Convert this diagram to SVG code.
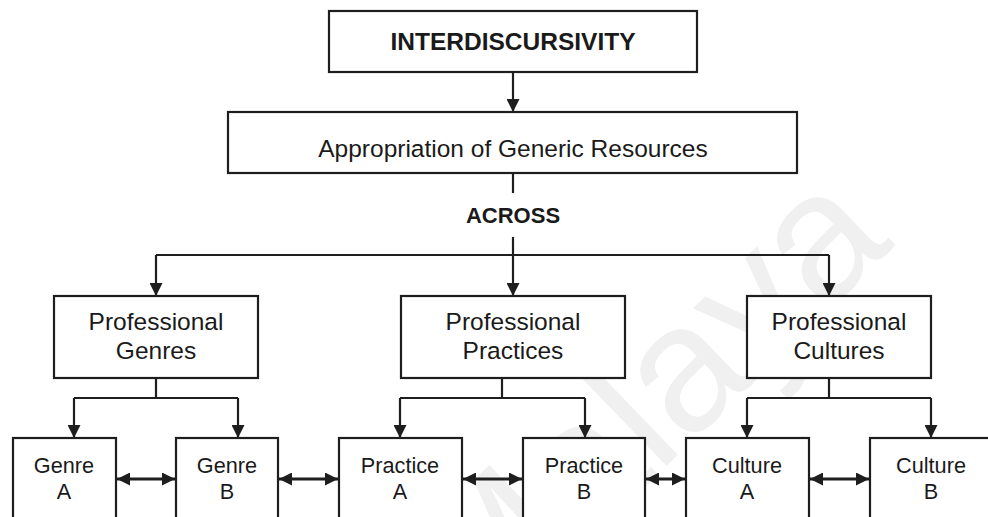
<svg xmlns="http://www.w3.org/2000/svg" width="988" height="517" viewBox="0 0 988 517">
<defs>
<marker id="ah" markerUnits="userSpaceOnUse" markerWidth="13" markerHeight="13" viewBox="0 0 13 13" refX="13" refY="6.5" orient="auto-start-reverse">
<path d="M0,0 L13,6.5 L0,13 z" fill="#1e1e1e"/>
</marker>
<style>
.box{fill:#fff;stroke:#1e1e1e;stroke-width:2.2}
.ln{fill:none;stroke:#1e1e1e;stroke-width:2.2}
.ar{fill:none;stroke:#1e1e1e;stroke-width:2.2;marker-end:url(#ah)}
.da{fill:none;stroke:#1e1e1e;stroke-width:3;marker-end:url(#ah);marker-start:url(#ah)}
.t{font-family:"Liberation Sans",Arial,sans-serif;fill:#1a1a1a;text-anchor:middle}
.l{font-size:24.5px}
.s{font-size:21.7px}
.b{font-weight:bold}
.wm{font-family:"Liberation Sans",Arial,sans-serif;font-size:180px;fill:#f0f0f0}
</style>
</defs>
<rect width="988" height="517" fill="#fff"/>
<text class="wm" transform="translate(478,648) rotate(-44)">Malaya</text>
<g id="connectors">
<path class="ar" d="M513,72 V112"/>
<path class="ln" d="M513,173 V193"/>
<path class="ar" d="M513,237 V296"/>
<path class="ln" d="M156,255 H829"/>
<path class="ar" d="M156,255 V296"/>
<path class="ar" d="M829,255 V296"/>
<path class="ln" d="M156,378 V398 M74,398 H238 M502,378 V398 M400,398 H585 M829,378 V398 M747,398 H931"/>
<path class="ar" d="M74,398 V438"/>
<path class="ar" d="M238,398 V438"/>
<path class="ar" d="M400,398 V438"/>
<path class="ar" d="M585,398 V438"/>
<path class="ar" d="M747,398 V438"/>
<path class="ar" d="M931,398 V438"/>
<path class="da" d="M117,479 H175"/>
<path class="da" d="M279,479 H338"/>
<path class="da" d="M463,479 H522"/>
<path class="da" d="M646,479 H685"/>
<path class="da" d="M810,479 H869"/>
<text class="t b" style="font-size:22px" x="513" y="223">ACROSS</text>
</g>
<g id="interdiscursivity">
<rect class="box" x="329" y="11" width="368" height="61"/>
<text class="t l b" x="513" y="50">INTERDISCURSIVITY</text>
</g>
<g id="appropriation">
<rect class="box" x="228" y="112" width="569" height="61"/>
<text class="t l" x="513" y="157">Appropriation of Generic Resources</text>
</g>
<g id="genres">
<rect class="box" x="54" y="296" width="204" height="82"/>
<text class="t l" x="156" y="330">Professional</text>
<text class="t l" x="156" y="359">Genres</text>
</g>
<g id="practices">
<rect class="box" x="401" y="296" width="224" height="82"/>
<text class="t l" x="513" y="330">Professional</text>
<text class="t l" x="513" y="359">Practices</text>
</g>
<g id="cultures">
<rect class="box" x="747" y="296" width="184" height="82"/>
<text class="t l" x="839" y="330">Professional</text>
<text class="t l" x="839" y="359">Cultures</text>
</g>
<g id="genreA">
<rect class="box" x="13" y="438" width="103" height="95"/>
<text class="t s" x="64" y="473">Genre</text>
<text class="t s" x="64" y="499">A</text>
</g>
<g id="genreB">
<rect class="box" x="176" y="438" width="102" height="95"/>
<text class="t s" x="227" y="473">Genre</text>
<text class="t s" x="227" y="499">B</text>
</g>
<g id="practiceA">
<rect class="box" x="339" y="438" width="123" height="95"/>
<text class="t s" x="400" y="473">Practice</text>
<text class="t s" x="400" y="499">A</text>
</g>
<g id="practiceB">
<rect class="box" x="523" y="438" width="122" height="95"/>
<text class="t s" x="584" y="473">Practice</text>
<text class="t s" x="584" y="499">B</text>
</g>
<g id="cultureA">
<rect class="box" x="686" y="438" width="123" height="95"/>
<text class="t s" x="747" y="473">Culture</text>
<text class="t s" x="747" y="499">A</text>
</g>
<g id="cultureB">
<rect class="box" x="870" y="438" width="122" height="95"/>
<text class="t s" x="931" y="473">Culture</text>
<text class="t s" x="931" y="499">B</text>
</g>
</svg>
